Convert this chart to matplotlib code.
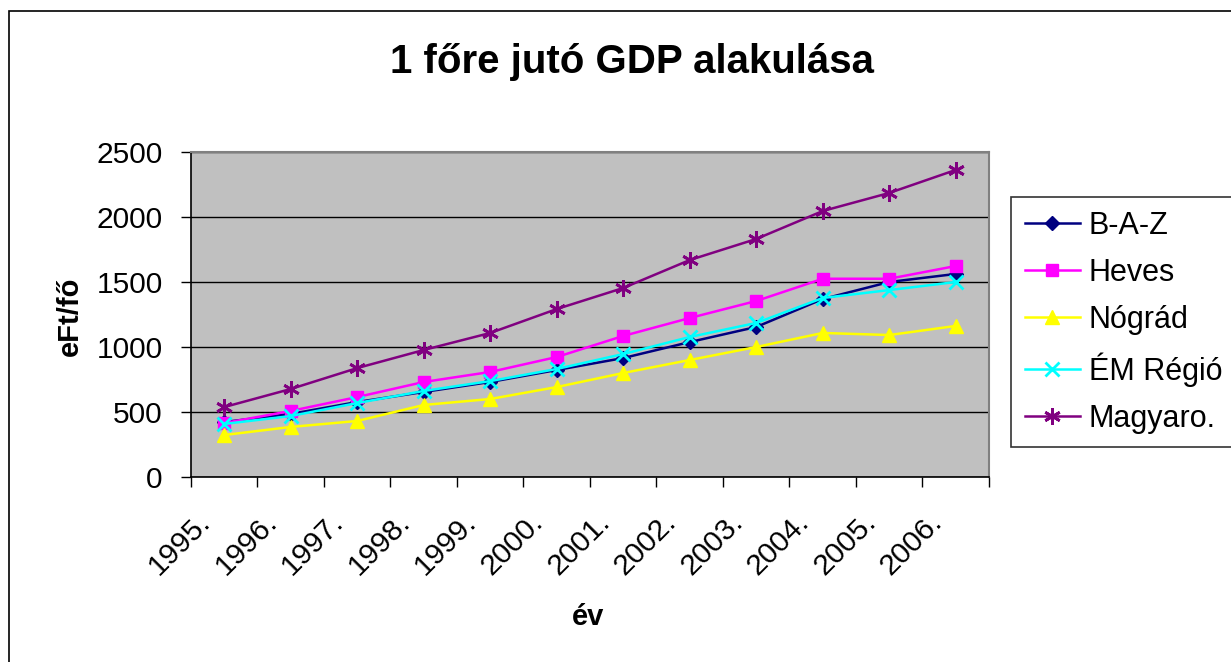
import matplotlib
matplotlib.use("Agg")
import matplotlib.pyplot as plt
import matplotlib.transforms as mtransforms
from matplotlib.patches import Rectangle

plt.rcParams['font.family'] = ['Liberation Sans', 'DejaVu Sans']

years = ['1995.', '1996.', '1997.', '1998.', '1999.', '2000.',
         '2001.', '2002.', '2003.', '2004.', '2005.', '2006.']
baz = [423, 485, 577, 654, 731, 823, 915, 1038, 1154, 1369, 1500, 1562]
heves = [415, 508, 615, 731, 808, 923, 1085, 1223, 1354, 1525, 1525, 1623]
nograd = [323, 385, 431, 554, 600, 692, 800, 900, 1000, 1108, 1092, 1162]
em_regio = [408, 469, 569, 662, 738, 831, 946, 1077, 1185, 1377, 1438, 1500]
magyar = [538, 677, 838, 977, 1108, 1292, 1454, 1669, 1831, 2046, 2185, 2362]

series_names = ['B-A-Z', 'Heves', 'Nógrád', 'ÉM Régió', 'Magyaro.']
series_vals = [baz, heves, nograd, em_regio, magyar]
colors = ['#000080', '#FF00FF', '#FFFF00', '#00FFFF', '#800080']
markers = ['D', 's', '^', 'x', (6, 2, 0)]
msizes = [7.5, 9, 10, 10, 12]

W, H = 1231, 662
fig = plt.figure(figsize=(W / 100, H / 100), dpi=100)
fig.patch.set_facecolor('white')

# outer chart border
fig.patches.append(Rectangle((9 / W, -0.05), 1.1, 1 - 11 / H + 0.05,
                             transform=fig.transFigure, fill=False,
                             edgecolor='black', linewidth=1.2))

ax = fig.add_axes([191 / W, 1 - 477 / H, (989 - 191) / W, (477 - 152) / H])
ax.set_facecolor('#C0C0C0')

x = list(range(len(years)))
for name, vals, c, m, ms in zip(series_names, series_vals, colors, markers, msizes):
    mew = 2 if m in ('x', (6, 2, 0)) else 1
    ax.plot(x, vals, color=c, marker=m, markersize=ms, markeredgewidth=mew,
            markerfacecolor=c, markeredgecolor=c, linewidth=1.8, label=name)

ax.set_xlim(-0.5, len(years) - 0.5)
ax.set_ylim(0, 2500)
ax.set_yticks([0, 500, 1000, 1500, 2000, 2500])
ax.yaxis.grid(True, color='black', linewidth=1)
ax.set_axisbelow(True)

ax.set_xticks([i - 0.5 for i in range(len(years) + 1)])
ax.set_xticklabels([])
ax.set_xticks(x, minor=True)
ax.set_xticklabels(years, minor=True, rotation=45, ha='right', va='center',
                   rotation_mode='anchor', fontsize=21.5)
ax.tick_params(axis='x', which='minor', length=0, pad=29)
offset = mtransforms.ScaledTranslation(-18 / 100, 0, fig.dpi_scale_trans)
for lab in ax.get_xticklabels(minor=True):
    lab.set_transform(lab.get_transform() + offset)

ax.tick_params(axis='x', which='major', length=7.5, width=1, color='black', direction='out')
ax.tick_params(axis='y', length=7.5, width=1, color='black', labelsize=21.5, pad=13)

for s in ['top', 'right']:
    ax.spines[s].set_color('#808080')
    ax.spines[s].set_linewidth(1.5)
for s in ['left', 'bottom']:
    ax.spines[s].set_color('black')
    ax.spines[s].set_linewidth(1.2)

fig.text(632 / W, 1 - 62 / H, '1 főre jutó GDP alakulása', ha='center', va='center',
         fontsize=29, fontweight='bold')
fig.text(70 / W, 1 - 316 / H, 'eFt/fő', ha='center', va='center', rotation=90,
         fontsize=21, fontweight='bold')
fig.text(588 / W, 1 - 617 / H, 'év', ha='center', va='center',
         fontsize=21, fontweight='bold')

leg = ax.legend(loc='upper left', bbox_to_anchor=(1011 / W, 1 - 197 / H),
                bbox_transform=fig.transFigure, fontsize=22, frameon=True,
                fancybox=False, edgecolor='black', handlelength=1.8,
                handletextpad=0.3, labelspacing=0.56, borderpad=0.45,
                borderaxespad=0)
leg.get_frame().set_linewidth(1.2)
leg.get_frame().set_facecolor('white')

fig.savefig('out.png', dpi=100)
